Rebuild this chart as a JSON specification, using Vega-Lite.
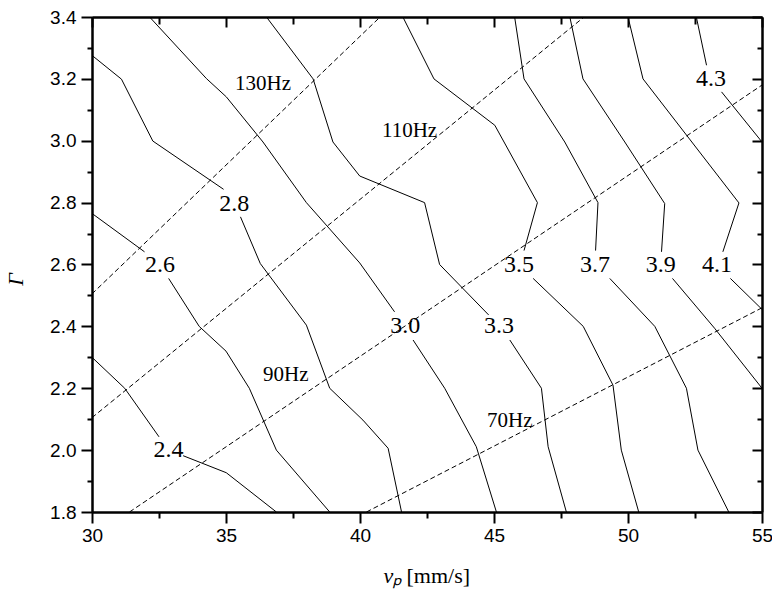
{
  "$schema": "https://vega.github.io/schema/vega-lite/v6.json",
  "autosize": {"type": "none"},
  "width": 670,
  "height": 495,
  "padding": {"left": 92, "top": 17, "right": 10, "bottom": 83},
  "background": "white",
  "config": {
    "view": {"stroke": null},
    "axis": {
      "domainColor": "black", "tickColor": "black", "labelColor": "black", "titleColor": "black",
      "grid": false, "domainWidth": 2, "tickWidth": 2,
      "labelFont": "Liberation Sans", "labelFontSize": 19,
      "titleFont": "Liberation Serif", "titleFontWeight": "normal", "titleFontSize": 22
    }
  },
  "datasets": {
    "contours": [
      {"seg": "A1", "i": 0, "x": 30, "y": 2.30}, {"seg": "A1", "i": 1, "x": 31.22, "y": 2.20}, {"seg": "A1", "i": 2, "x": 32.5, "y": 2.043},
      {"seg": "A2", "i": 0, "x": 33.4, "y": 1.982}, {"seg": "A2", "i": 1, "x": 35.01, "y": 1.927}, {"seg": "A2", "i": 2, "x": 36.88, "y": 1.80},
      {"seg": "B1", "i": 0, "x": 30, "y": 2.765}, {"seg": "B1", "i": 1, "x": 31.96, "y": 2.641},
      {"seg": "B2", "i": 0, "x": 32.86, "y": 2.555}, {"seg": "B2", "i": 1, "x": 34.0, "y": 2.40}, {"seg": "B2", "i": 2, "x": 35.0, "y": 2.32}, {"seg": "B2", "i": 3, "x": 35.87, "y": 2.20}, {"seg": "B2", "i": 4, "x": 36.88, "y": 2.0}, {"seg": "B2", "i": 5, "x": 38.87, "y": 1.80},
      {"seg": "C1", "i": 0, "x": 30, "y": 3.276}, {"seg": "C1", "i": 1, "x": 31.1, "y": 3.199}, {"seg": "C1", "i": 2, "x": 32.27, "y": 2.999}, {"seg": "C1", "i": 3, "x": 34.91, "y": 2.843},
      {"seg": "C2", "i": 0, "x": 35.54, "y": 2.754}, {"seg": "C2", "i": 1, "x": 36.28, "y": 2.603}, {"seg": "C2", "i": 2, "x": 38.0, "y": 2.404}, {"seg": "C2", "i": 3, "x": 38.87, "y": 2.20}, {"seg": "C2", "i": 4, "x": 40.11, "y": 2.097}, {"seg": "C2", "i": 5, "x": 41.05, "y": 2.006}, {"seg": "C2", "i": 6, "x": 41.55, "y": 1.80},
      {"seg": "D1", "i": 0, "x": 32.15, "y": 3.40}, {"seg": "D1", "i": 1, "x": 34.27, "y": 3.201}, {"seg": "D1", "i": 2, "x": 35.01, "y": 3.142}, {"seg": "D1", "i": 3, "x": 36.38, "y": 2.996}, {"seg": "D1", "i": 4, "x": 38.0, "y": 2.80}, {"seg": "D1", "i": 5, "x": 39.99, "y": 2.605}, {"seg": "D1", "i": 6, "x": 41.29, "y": 2.447},
      {"seg": "D2", "i": 0, "x": 41.98, "y": 2.356}, {"seg": "D2", "i": 1, "x": 43.16, "y": 2.20}, {"seg": "D2", "i": 2, "x": 44.34, "y": 2.011}, {"seg": "D2", "i": 3, "x": 45.09, "y": 1.80},
      {"seg": "E1", "i": 0, "x": 36.51, "y": 3.40}, {"seg": "E1", "i": 1, "x": 38.25, "y": 3.20}, {"seg": "E1", "i": 2, "x": 38.99, "y": 2.996}, {"seg": "E1", "i": 3, "x": 39.99, "y": 2.886}, {"seg": "E1", "i": 4, "x": 42.41, "y": 2.80}, {"seg": "E1", "i": 5, "x": 42.97, "y": 2.60}, {"seg": "E1", "i": 6, "x": 44.8, "y": 2.437},
      {"seg": "E2", "i": 0, "x": 45.59, "y": 2.356}, {"seg": "E2", "i": 1, "x": 46.77, "y": 2.20}, {"seg": "E2", "i": 2, "x": 47.02, "y": 2.011}, {"seg": "E2", "i": 3, "x": 47.70, "y": 1.80},
      {"seg": "F1", "i": 0, "x": 41.6, "y": 3.40}, {"seg": "F1", "i": 1, "x": 42.76, "y": 3.20}, {"seg": "F1", "i": 2, "x": 45.03, "y": 3.05}, {"seg": "F1", "i": 3, "x": 46.62, "y": 2.80}, {"seg": "F1", "i": 4, "x": 46.12, "y": 2.645},
      {"seg": "F2", "i": 0, "x": 46.46, "y": 2.555}, {"seg": "F2", "i": 1, "x": 48.33, "y": 2.40}, {"seg": "F2", "i": 2, "x": 49.44, "y": 2.21}, {"seg": "F2", "i": 3, "x": 49.75, "y": 2.0}, {"seg": "F2", "i": 4, "x": 50.4, "y": 1.80},
      {"seg": "G1", "i": 0, "x": 45.77, "y": 3.40}, {"seg": "G1", "i": 1, "x": 46.12, "y": 3.20}, {"seg": "G1", "i": 2, "x": 47.64, "y": 2.996}, {"seg": "G1", "i": 3, "x": 48.88, "y": 2.80}, {"seg": "G1", "i": 4, "x": 48.79, "y": 2.645},
      {"seg": "G2", "i": 0, "x": 49.32, "y": 2.555}, {"seg": "G2", "i": 1, "x": 51.0, "y": 2.40}, {"seg": "G2", "i": 2, "x": 52.18, "y": 2.20}, {"seg": "G2", "i": 3, "x": 52.61, "y": 2.0}, {"seg": "G2", "i": 4, "x": 53.76, "y": 1.80},
      {"seg": "H1", "i": 0, "x": 47.83, "y": 3.40}, {"seg": "H1", "i": 1, "x": 48.32, "y": 3.20}, {"seg": "H1", "i": 2, "x": 49.88, "y": 2.996}, {"seg": "H1", "i": 3, "x": 51.37, "y": 2.797}, {"seg": "H1", "i": 4, "x": 51.25, "y": 2.641},
      {"seg": "H2", "i": 0, "x": 51.66, "y": 2.555}, {"seg": "H2", "i": 1, "x": 53.23, "y": 2.394}, {"seg": "H2", "i": 2, "x": 55, "y": 2.20},
      {"seg": "I1", "i": 0, "x": 50.0, "y": 3.40}, {"seg": "I1", "i": 1, "x": 50.56, "y": 3.20}, {"seg": "I1", "i": 2, "x": 54.14, "y": 2.799}, {"seg": "I1", "i": 3, "x": 53.54, "y": 2.641},
      {"seg": "I2", "i": 0, "x": 53.82, "y": 2.555}, {"seg": "I2", "i": 1, "x": 55, "y": 2.455},
      {"seg": "J1", "i": 0, "x": 52.55, "y": 3.40}, {"seg": "J1", "i": 1, "x": 52.93, "y": 3.244},
      {"seg": "J2", "i": 0, "x": 53.49, "y": 3.158}, {"seg": "J2", "i": 1, "x": 55, "y": 2.996}
    ],
    "freqLines": [
      {"f": "130Hz", "i": 0, "x": 30, "y": 2.505}, {"f": "130Hz", "i": 1, "x": 40.75, "y": 3.40},
      {"f": "110Hz", "i": 0, "x": 30, "y": 2.105}, {"f": "110Hz", "i": 1, "x": 48.36, "y": 3.40},
      {"f": "90Hz", "i": 0, "x": 31.4, "y": 1.80}, {"f": "90Hz", "i": 1, "x": 55, "y": 3.18},
      {"f": "70Hz", "i": 0, "x": 40.24, "y": 1.80}, {"f": "70Hz", "i": 1, "x": 55, "y": 2.46}
    ],
    "contourLabels": [
      {"label": "2.4", "x": 32.85, "y": 2.0},
      {"label": "2.6", "x": 32.54, "y": 2.598},
      {"label": "2.8", "x": 35.31, "y": 2.797},
      {"label": "3.0", "x": 41.69, "y": 2.401},
      {"label": "3.3", "x": 45.19, "y": 2.40},
      {"label": "3.5", "x": 45.93, "y": 2.597},
      {"label": "3.7", "x": 48.77, "y": 2.597},
      {"label": "3.9", "x": 51.22, "y": 2.598},
      {"label": "4.1", "x": 53.32, "y": 2.598},
      {"label": "4.3", "x": 53.10, "y": 3.20}
    ],
    "freqLabels": [
      {"label": "130Hz", "x": 36.38, "y": 3.182},
      {"label": "110Hz", "x": 41.85, "y": 3.032},
      {"label": "90Hz", "x": 37.23, "y": 2.242},
      {"label": "70Hz", "x": 45.59, "y": 2.095}
    ]
  },
  "layer": [
    {
      "data": {"name": "contours"},
      "mark": {"type": "line", "color": "black", "strokeWidth": 1, "clip": true},
      "encoding": {
        "x": {"field": "x", "type": "quantitative", "scale": {"domain": [30, 55], "nice": false, "zero": false},
              "axis": {"orient": "bottom", "values": [30, 35, 40, 45, 50, 55], "tickSize": 11, "labelPadding": 3, "labelFlush": false, "labelOverlap": false,
                       "title": "[mm/s]", "titleAlign": "left", "titleAnchor": "start", "titleX": 314, "titleY": 70, "titleBaseline": "alphabetic"}},
        "y": {"field": "y", "type": "quantitative", "scale": {"domain": [1.8, 3.4], "nice": false, "zero": false},
              "axis": {"orient": "left", "values": [1.8, 2.0, 2.2, 2.4, 2.6, 2.8, 3.0, 3.2, 3.4], "format": ".1f", "tickSize": 11, "labelPadding": 5, "labelFlush": false, "labelOverlap": false,
                       "title": "Γ", "titleFontStyle": "italic", "titleX": -77, "titleY": 262, "titleAlign": "center", "titleBaseline": "middle", "titleAngle": -90}},
        "detail": {"field": "seg"},
        "order": {"field": "i"}
      }
    },
    {
      "data": {"name": "freqLines"},
      "mark": {"type": "line", "color": "black", "strokeWidth": 1, "strokeDash": [5, 3], "clip": true},
      "encoding": {
        "x": {"field": "x", "type": "quantitative",
              "axis": {"orient": "bottom", "values": [32.5, 37.5, 42.5, 47.5, 52.5], "tickSize": 6, "labels": false,
                       "title": "vₚ", "titleFontStyle": "italic", "titleAlign": "left", "titleAnchor": "start", "titleX": 291, "titleY": 70, "titleBaseline": "alphabetic"}},
        "y": {"field": "y", "type": "quantitative",
              "axis": {"orient": "left", "values": [1.9, 2.1, 2.3, 2.5, 2.7, 2.9, 3.1, 3.3], "tickSize": 5, "labels": false, "title": null}},
        "detail": {"field": "f"},
        "order": {"field": "i"}
      }
    },
    {
      "data": {"name": "contourLabels"},
      "mark": {"type": "text", "font": "Liberation Serif", "fontSize": 24, "color": "black", "align": "center", "baseline": "middle"},
      "encoding": {
        "x": {"field": "x", "type": "quantitative",
              "axis": {"orient": "top", "values": [30, 35, 40, 45, 50, 55], "tickSize": -10, "labels": false, "title": null}},
        "y": {"field": "y", "type": "quantitative",
              "axis": {"orient": "right", "values": [1.8, 2.0, 2.2, 2.4, 2.6, 2.8, 3.0, 3.2, 3.4], "tickSize": -10, "labels": false, "title": null}},
        "text": {"field": "label"}
      }
    },
    {
      "data": {"name": "freqLabels"},
      "mark": {"type": "text", "font": "Liberation Serif", "fontSize": 21, "color": "black", "align": "center", "baseline": "middle"},
      "encoding": {
        "x": {"field": "x", "type": "quantitative",
              "axis": {"orient": "top", "values": [32.5, 37.5, 42.5, 47.5, 52.5], "tickSize": -7, "labels": false, "title": null}},
        "y": {"field": "y", "type": "quantitative",
              "axis": {"orient": "right", "values": [1.9, 2.1, 2.3, 2.5, 2.7, 2.9, 3.1, 3.3], "tickSize": -5, "labels": false, "title": null}},
        "text": {"field": "label"}
      }
    }
  ],
  "resolve": {"axis": {"x": "independent", "y": "independent"}}
}
